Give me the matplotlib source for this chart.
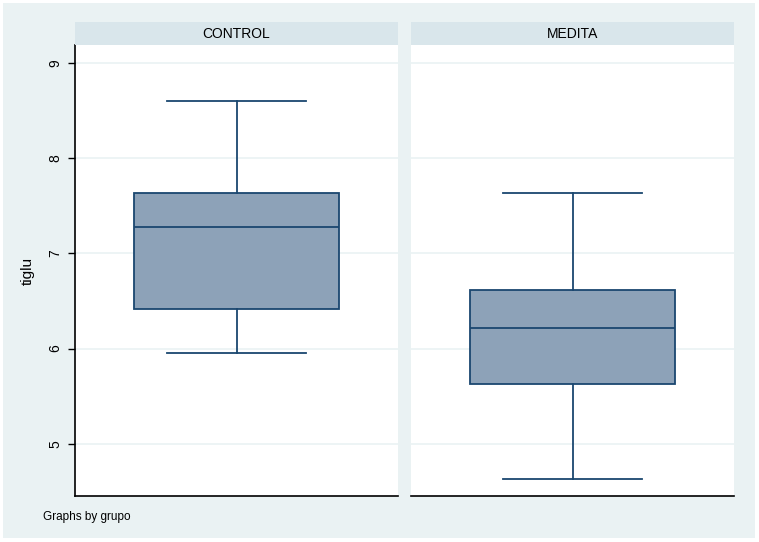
import matplotlib
matplotlib.use("Agg")
import matplotlib.pyplot as plt

groups = ["CONTROL", "MEDITA"]
whislo = [5.95, 4.63]
q1 = [6.42, 5.63]
med = [7.28, 6.22]
q3 = [7.63, 6.62]
whishi = [8.6, 7.63]
yticks = [5, 6, 7, 8, 9]
ylabel = "tiglu"
note = "Graphs by grupo"

W, H = 759, 542
fig = plt.figure(figsize=(W / 100, H / 100), dpi=100)
fig.patch.set_facecolor("white")
plt.rcParams['font.family'] = ['Liberation Sans', 'DejaVu Sans']

def fx(px):
    return px / W

def fy(py):
    return 1 - py / H

bg = "#EAF2F3"
strip = "#D9E6EB"
navy = "#1A476F"
fill = "#8DA2B8"

bgax = fig.add_axes([fx(3), fy(538), fx(755) - fx(3), fy(3) - fy(538)], zorder=-10)
bgax.set_facecolor(bg)
bgax.set_xticks([])
bgax.set_yticks([])
for s in bgax.spines.values():
    s.set_visible(False)

panels = [(75, 398), (411, 734)]
top, bottom = 45, 496
for i, (x0, x1) in enumerate(panels):
    ax = fig.add_axes([fx(x0), fy(bottom), fx(x1) - fx(x0), fy(top) - fy(bottom)], zorder=1)
    ax.set_facecolor("white")
    stats = [dict(whislo=whislo[i], q1=q1[i], med=med[i], q3=q3[i], whishi=whishi[i], fliers=[])]
    ax.bxp(stats, positions=[0], widths=0.635, patch_artist=True, showfliers=False,
           boxprops=dict(facecolor=fill, edgecolor=navy, linewidth=1.3),
           medianprops=dict(color=navy, linewidth=1.3),
           whiskerprops=dict(color=navy, linewidth=1.3),
           capprops=dict(color=navy, linewidth=1.3),
           capwidths=0.43)
    ax.set_xlim(-0.5, 0.5)
    ax.set_ylim(4.45, 9.19)
    ax.set_yticks(yticks)
    ax.yaxis.grid(True, color="#EAF2F3", linewidth=1.2)
    ax.set_axisbelow(True)
    ax.set_xticks([])
    for s in ["top", "right"]:
        ax.spines[s].set_visible(False)
    ax.spines["bottom"].set_color("black")
    ax.spines["bottom"].set_linewidth(1.2)
    if i == 0:
        ax.spines["left"].set_color("black")
        ax.spines["left"].set_linewidth(1.2)
        ax.tick_params(axis="y", length=5, width=1, color="black", labelsize=10, pad=4)
        for lab in ax.get_yticklabels():
            lab.set_rotation(90)
            lab.set_va("center")
        ax.set_ylabel(ylabel, fontsize=11, labelpad=10)
    else:
        ax.spines["left"].set_visible(False)
        ax.tick_params(axis="y", length=0, labelleft=False)
    sax = fig.add_axes([fx(x0), fy(top), fx(x1) - fx(x0), fy(22) - fy(top)], zorder=1)
    sax.set_facecolor(strip)
    sax.set_xticks([])
    sax.set_yticks([])
    for s in sax.spines.values():
        s.set_visible(False)
    sax.text(0.5, 0.5, groups[i], ha="center", va="center", fontsize=10, color="black",
             transform=sax.transAxes)

fig.text(fx(43), fy(517), note, ha="left", va="center", fontsize=8.5)

fig.savefig("out.png", dpi=100, facecolor=fig.get_facecolor())
